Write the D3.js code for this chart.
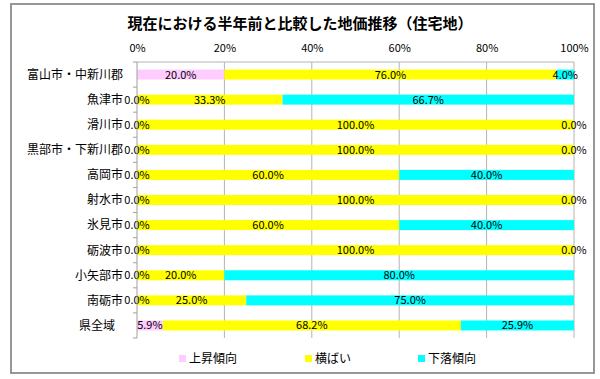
<!DOCTYPE html>
<html><head><meta charset="utf-8">
<script src="https://cdn.jsdelivr.net/npm/d3@7"></script>
<style>
body{margin:0;background:#fff;}
text{font-family:"Noto Sans CJK JP","Noto Sans",sans-serif;}
</style></head>
<body><svg id="c" width="600" height="379"></svg>
<script>
const categories = ["富山市・中新川郡","魚津市","滑川市","黒部市・下新川郡","高岡市","射水市","氷見市","砺波市","小矢部市","南砺市","県全域"];
const seriesNames = ["上昇傾向","横ばい","下落傾向"];
const rising  = [20.0, 0.0, 0.0, 0.0, 0.0, 0.0, 0.0, 0.0, 0.0, 0.0, 5.9];
const flat    = [76.0, 33.3, 100.0, 100.0, 60.0, 100.0, 60.0, 100.0, 20.0, 25.0, 68.2];
const falling = [4.0, 66.7, 0.0, 0.0, 40.0, 0.0, 40.0, 0.0, 80.0, 75.0, 25.9];
const tickValues = [0, 20, 40, 60, 80, 100];
const colors = ["#FFCCFF", "#FFFF00", "#00FFFF"];

const svg = d3.select("#c");
const W = 600, H = 379;
const m = {left:137, right:26, top:62, bottom:41};

svg.append("rect").attr("x",11).attr("y",4).attr("width",583).attr("height",369)
  .attr("fill","#fff").attr("stroke","#8c8c8c").attr("stroke-width",1.8);

svg.append("text").attr("x",300).attr("y",29).attr("text-anchor","middle")
  .attr("font-size",15).attr("font-weight","bold").attr("fill","#000")
  .text("現在における半年前と比較した地価推移（住宅地）");

const x = d3.scaleLinear().domain([0,100]).range([m.left, W-m.right]);
const y = d3.scaleBand().domain(categories).range([m.top, H-m.bottom]).paddingInner(0.6).paddingOuter(0.3);
const yb = d3.scaleBand().domain(categories).range([m.top, H-m.bottom]);

// gridlines
svg.append("g").selectAll("line").data(tickValues.slice(1)).join("line")
  .attr("x1",d=>x(d)).attr("x2",d=>x(d)).attr("y1",m.top).attr("y2",H-m.bottom)
  .attr("stroke","#b4b4b4").attr("stroke-width",1);
svg.append("line").attr("x1",x(0)).attr("x2",x(100)).attr("y1",m.top).attr("y2",m.top)
  .attr("stroke","#b4b4b4");

// top axis
const xa = svg.append("g").attr("transform",`translate(0,${m.top})`)
  .call(d3.axisTop(x).tickValues(tickValues).tickFormat(d=>d+"%").tickSize(0).tickPadding(10));
xa.select(".domain").remove();
xa.selectAll("text").attr("font-size",11).attr("fill","#000");

// stacked data
const rows = categories.map((c,i)=>({cat:c, v:[rising[i], flat[i], falling[i]]}));
const stack = d3.stack().keys([0,1,2]).value((d,k)=>d.v[k]);
const series = stack(rows);

const bh = 10;
const g = svg.append("g");
series.forEach((s,k)=>{
  g.append("g").selectAll("rect").data(s).join("rect")
    .attr("x",d=>x(d[0])).attr("width",d=>x(d[1])-x(d[0]))
    .attr("y",d=>yb(d.data.cat)+yb.bandwidth()/2-bh/2).attr("height",bh)
    .attr("fill",colors[k]);
});
series.forEach((s,k)=>{
  g.append("g").selectAll("text").data(s).join("text")
    .attr("x",d=>(x(d[0])+x(d[1]))/2)
    .attr("y",d=>yb(d.data.cat)+yb.bandwidth()/2)
    .attr("dy","0.36em").attr("text-anchor","middle")
    .attr("font-size",11).attr("fill","#000")
    .text(d=>d.data.v[k].toFixed(1)+"%");
});

// left axis
const ya = svg.append("g").attr("transform",`translate(${m.left},0)`);
ya.append("line").attr("x1",0).attr("x2",0).attr("y1",m.top).attr("y2",H-m.bottom).attr("stroke","#a0a0a0");
ya.selectAll("line.t").data(categories.concat(["_end"])).join("line").attr("class","t")
  .attr("x1",-4).attr("x2",0)
  .attr("y1",(d,i)=> i<categories.length ? yb(d) : H-m.bottom)
  .attr("y2",(d,i)=> i<categories.length ? yb(d) : H-m.bottom)
  .attr("stroke","#a0a0a0");
ya.selectAll("text").data(categories).join("text")
  .attr("x",d=> d==="県全域" ? -22 : -14)
  .attr("y",d=>yb(d)+yb.bandwidth()/2).attr("dy","0.36em")
  .attr("text-anchor","end").attr("font-size",12).attr("fill","#000")
  .text(d=>d);

// legend
const legX = [179, 305, 418];
const lg = svg.append("g");
seriesNames.forEach((n,k)=>{
  lg.append("rect").attr("x",legX[k]).attr("y",355).attr("width",7).attr("height",7).attr("fill",colors[k]);
  lg.append("text").attr("x",legX[k]+10).attr("y",358.5).attr("dy","0.36em")
    .attr("font-size",12).attr("fill","#000").text(n);
});
</script></body></html>
